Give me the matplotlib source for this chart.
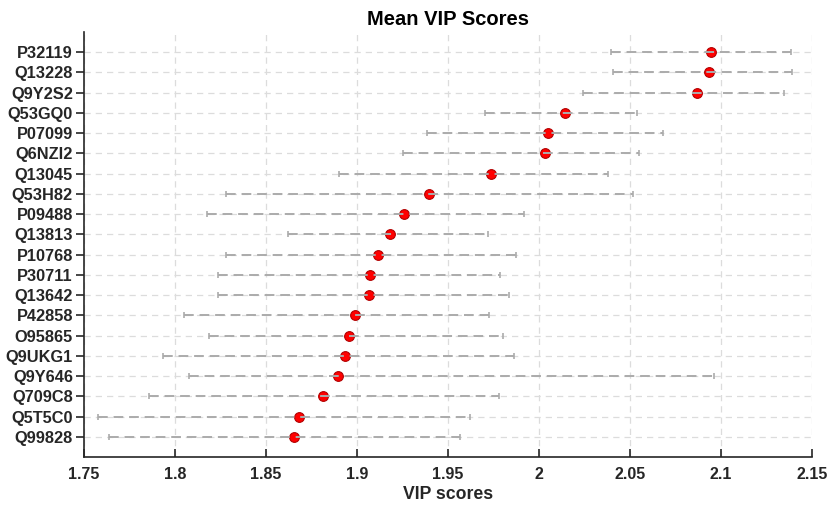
import matplotlib.pyplot as plt
import numpy as np

plt.rcParams['font.family'] = ['Liberation Sans', 'DejaVu Sans']

proteins = ["P32119", "Q13228", "Q9Y2S2", "Q53GQ0", "P07099", "Q6NZI2", "Q13045",
            "Q53H82", "P09488", "Q13813", "P10768", "P30711", "Q13642", "P42858",
            "O95865", "Q9UKG1", "Q9Y646", "Q709C8", "Q5T5C0", "Q99828"]
mean_vip = [2.0943, 2.0936, 2.0870, 2.0141, 2.0049, 2.0035, 1.9736, 1.9396, 1.9260, 1.9180,
            1.9117, 1.9071, 1.9064, 1.8991, 1.8954, 1.8934, 1.8896, 1.8813, 1.8680, 1.8656]
low_vip = [2.0396, 2.0407, 2.0244, 1.9703, 1.9386, 1.9251, 1.8901, 1.8280, 1.8178, 1.8623,
           1.8278, 1.8236, 1.8238, 1.8049, 1.8187, 1.7934, 1.8075, 1.7855, 1.7579, 1.7639]
high_vip = [2.1386, 2.1392, 2.1348, 2.0540, 2.0683, 2.0551, 2.0379, 2.0515, 1.9915, 1.9720,
            1.9874, 1.9786, 1.9835, 1.9727, 1.9804, 1.9864, 2.0962, 1.9780, 1.9621, 1.9566]
xticks = [1.75, 1.8, 1.85, 1.9, 1.95, 2.0, 2.05, 2.1, 2.15]
xticklabels = ["1.75", "1.8", "1.85", "1.9", "1.95", "2", "2.05", "2.1", "2.15"]

mean_vip = np.array(mean_vip)
ypos = np.arange(len(proteins), 0, -1)
xerr = [mean_vip - np.array(low_vip), np.array(high_vip) - mean_vip]

fig = plt.figure(figsize=(8.3, 5.05), dpi=100)
ax = fig.add_axes([0.1012, 0.095, 0.8771, 0.8416])

ax.plot(mean_vip, ypos, 'o', color='#ff0000', markeredgecolor='#b00000',
        markersize=7, markeredgewidth=0.8, zorder=3)
eb = ax.errorbar(mean_vip, ypos, xerr=xerr, fmt='none', ecolor='#ababab',
                 elinewidth=1.4, capsize=2.5, capthick=1.2, zorder=4)
eb[2][0].set_linestyle((0, (5, 3)))

ax.set_xlim(1.75, 2.15)
ax.set_ylim(0, 21)
ax.set_xticks(xticks)
ax.set_xticklabels(xticklabels)
ax.set_yticks(ypos)
ax.set_yticklabels(proteins)

ax.grid(True, color='#dcdcdc', linestyle=(0, (5, 4)), linewidth=0.9, zorder=0)
ax.set_axisbelow(True)

for s in ['top', 'right']:
    ax.spines[s].set_visible(False)
for s in ['left', 'bottom']:
    ax.spines[s].set_color('#262626')
    ax.spines[s].set_linewidth(1.2)

ax.tick_params(axis='x', direction='in', length=6, width=1.2, colors='#262626',
               labelsize=11.5, pad=7)
ax.tick_params(axis='y', direction='out', length=6, width=1.2, colors='#262626',
               labelsize=11.8, pad=2)
for lbl in ax.get_xticklabels() + ax.get_yticklabels():
    lbl.set_fontweight('bold')

ax.set_xlabel("VIP scores", fontsize=12.7, fontweight='bold', color='#262626', labelpad=3)
ax.set_title("Mean VIP Scores", fontsize=14.5, fontweight='bold', pad=5)

fig.savefig("out.png", dpi=100)
